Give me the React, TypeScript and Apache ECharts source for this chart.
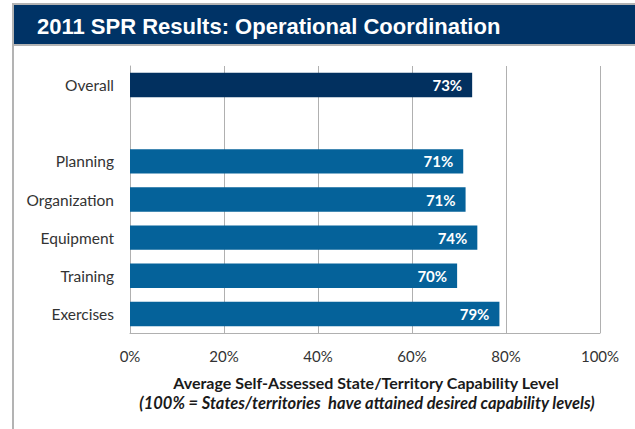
import React, { useEffect, useRef } from "react";
import * as echarts from "echarts";

const titleText = "2011 SPR Results: Operational Coordination";
const categories = ["Overall", "", "Planning", "Organization", "Equipment", "Training", "Exercises"];
const capability = [72.8, null, 70.9, 71.4, 73.9, 69.6, 78.6];
const xTicks = [0, 20, 40, 60, 80, 100];
const axisTitle1 = "Average Self-Assessed State/Territory Capability Level";
const axisTitle2 = "(100% = States/territories  have attained desired capability levels)";

const NAVY = "#02305f";
const BLUE = "#05629a";

export default function App() {
  const ref = useRef<HTMLDivElement>(null);
  useEffect(() => {
    document.body.style.margin = "0";
    const chart = echarts.init(ref.current!, null, { renderer: "svg" });
    const font = "Lato, 'Open Sans', sans-serif";
    chart.setOption({
      animation: false,
      backgroundColor: "#ffffff",
      grid: { left: 130, right: 35, top: 66, bottom: 96, containLabel: false },
      xAxis: {
        type: "value",
        min: xTicks[0],
        max: xTicks[xTicks.length - 1],
        interval: 20,
        axisLine: { show: true, lineStyle: { color: "#b0b0b0", width: 1 } },
        axisTick: { show: false },
        splitLine: { show: true, lineStyle: { color: "#b0b0b0", width: 1 } },
        axisLabel: {
          formatter: "{value}%",
          color: "#333333",
          fontFamily: font,
          fontSize: 15,
          margin: 15,
        },
      },
      yAxis: {
        type: "category",
        inverse: true,
        data: categories,
        axisLine: { show: true, lineStyle: { color: "#b0b0b0", width: 1 } },
        axisTick: { show: false },
        splitLine: { show: false },
        axisLabel: { color: "#333333", fontFamily: font, fontSize: 15.5, margin: 16 },
      },
      series: [
        {
          type: "bar",
          barCategoryGap: "36%",
          data: capability.map((v, i) =>
            v === null
              ? "-"
              : { value: v, itemStyle: { color: categories[i] === "Overall" ? NAVY : BLUE } }
          ),
          label: {
            show: true,
            position: "insideRight",
            distance: 10,
            color: "#ffffff",
            fontFamily: font,
            fontWeight: "bold",
            fontSize: 15,
            formatter: (p: any) => Math.round(p.value) + "%",
          },
        },
      ],
      graphic: [
        { type: "rect", shape: { x: 12, y: 3, width: 623, height: 43 }, style: { fill: "#b3b3b3" }, z: 0 },
        { type: "rect", shape: { x: 14, y: 5, width: 621, height: 39 }, style: { fill: "#003366" }, z: 1 },
        { type: "rect", shape: { x: 12, y: 44, width: 2, height: 385 }, style: { fill: "#b3b3b3" }, z: 1 },
        {
          type: "text",
          x: 37,
          y: 26,
          z: 2,
          style: {
            text: titleText,
            fill: "#ffffff",
            font: "bold 22px 'Liberation Sans', Arial, sans-serif",
            verticalAlign: "middle",
            align: "left",
          },
        },
        {
          type: "text",
          x: 366,
          y: 382,
          style: {
            text: axisTitle1,
            fill: "#1a1a1a",
            font: "bold 16px Lato, 'Open Sans', sans-serif",
            align: "center",
            verticalAlign: "middle",
          },
        },
        {
          type: "text",
          x: 367,
          y: 403,
          style: {
            text: axisTitle2,
            fill: "#1a1a1a",
            font: "italic bold 16.5px Lato, 'Open Sans', sans-serif",
            align: "center",
            verticalAlign: "middle",
          },
        },
      ],
    });
    return () => chart.dispose();
  }, []);
  return <div ref={ref} style={{ width: 635, height: 429 }} />;
}
